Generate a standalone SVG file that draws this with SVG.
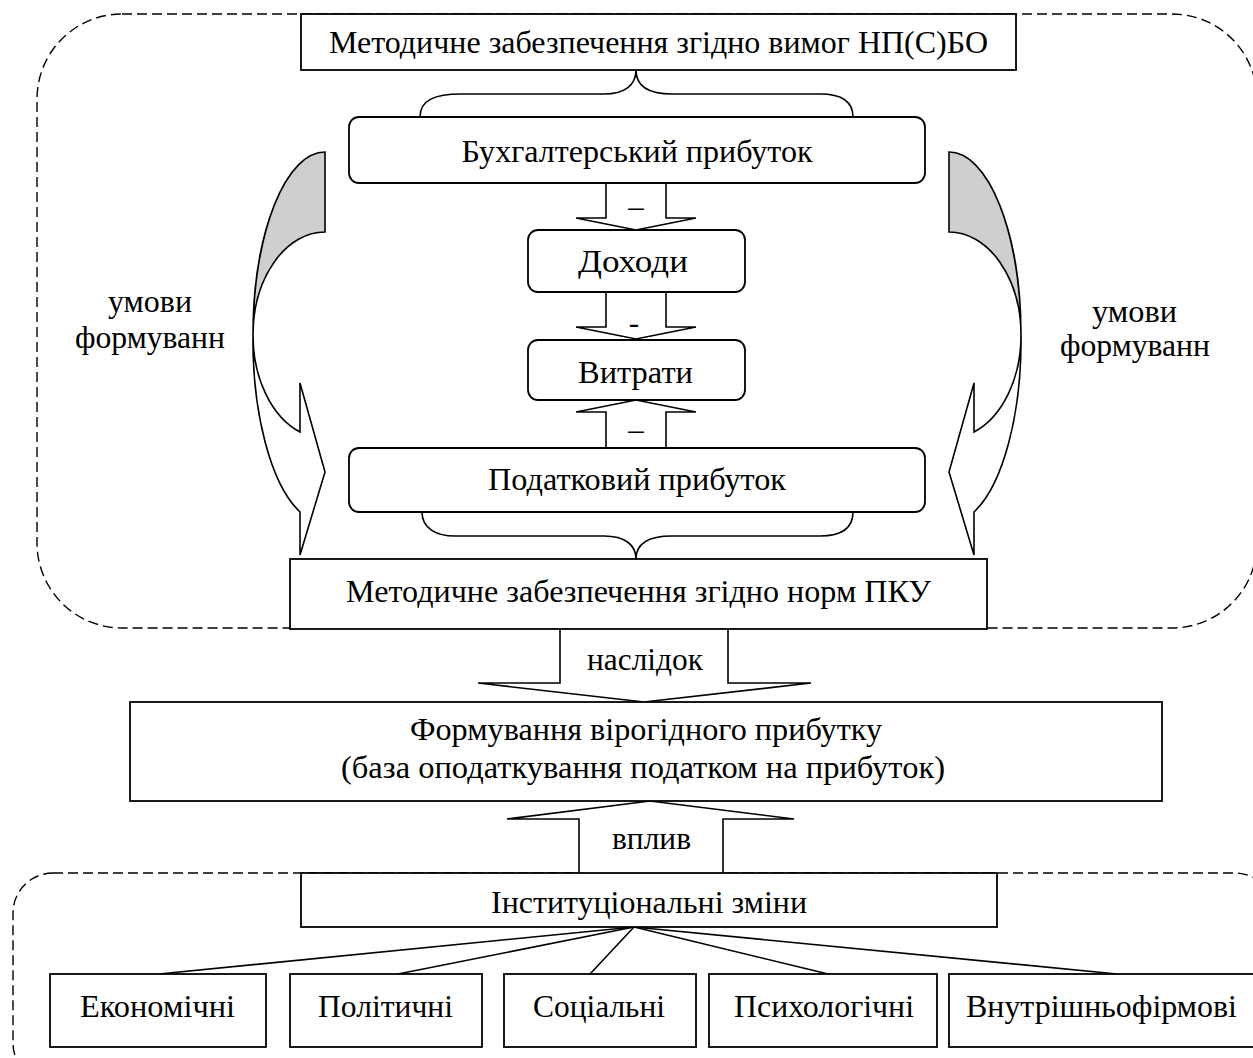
<svg xmlns="http://www.w3.org/2000/svg" xmlns:xlink="http://www.w3.org/1999/xlink" width="1253" height="1058" viewBox="0 0 1253 1058">
<style>
.box{fill:#fff;stroke:#000;stroke-width:1.8}
.cont{fill:none;stroke:#000;stroke-width:1.4;stroke-dasharray:10 5}
.ln{fill:none;stroke:#000;stroke-width:1.6}
.blk{fill:#fff;stroke:#000;stroke-width:1.6;stroke-linejoin:miter}
.gray{fill:#cfcfcf;stroke:#000;stroke-width:1.6}
text{font-family:"Liberation Serif","Times New Roman",serif;font-size:31px;fill:#000;text-anchor:middle}
</style>
<defs>
<g id="curvedArrow">
<path class="gray" d="M325,152 A72,183 0 0 0 253,335 A72,103 0 0 1 325,232 Z"/>
<path class="blk" d="M253,335 A72,103 0 0 0 300,432 L300,383 L325,472 L300,555 L300,512 A72,183 0 0 1 253,335 Z"/>
</g>
</defs>
<rect width="1253" height="1058" fill="#fff"/>
<g id="containers">
<rect class="cont" x="37" y="14" width="1220" height="614" rx="85" ry="85"/>
<rect class="cont" x="13" y="873" width="1262" height="210" rx="40" ry="40"/>
</g>
<g id="connectors">
<path class="ln" d="M420,117 C420,100 435,94 461,94 L604,94 C625,94 636,85 636,70 C636,85 647,94 672,94 L820,94 C840,94 853,100 853,117"/>
<path class="ln" d="M422,512 C422,529 437,536 455,536 L604,536 C625,536 636,545 636,559 C636,545 647,536 672,536 L820,536 C840,536 853,529 853,512"/>
<path class="blk" d="M606,183 L606,218 L576,218 L636,230 L696,218 L666,218 L666,183"/>
<path class="blk" d="M606,292 L606,327 L576,327 L636,339 L696,327 L666,327 L666,292"/>
<path class="blk" d="M606,448 L606,412 L576,412 L636,400 L696,412 L666,412 L666,448"/>
<text x="636" y="217">–</text>
<text x="634" y="333">-</text>
<text x="636" y="440">–</text>
<path class="blk" d="M560,629 L560,683 L478,683 L644,702 L811,683 L728,683 L728,629"/>
<text x="645" y="670" textLength="116" lengthAdjust="spacingAndGlyphs">наслідок</text>
<path class="blk" d="M579,873 L579,819 L507,819 L650,801 L794,819 L723,819 L723,873"/>
<text x="651.5" y="849" textLength="79" lengthAdjust="spacingAndGlyphs">вплив</text>
<use xlink:href="#curvedArrow" href="#curvedArrow"/>
<use xlink:href="#curvedArrow" href="#curvedArrow" transform="translate(1274,0) scale(-1,1)"/>
<text x="150" y="312" textLength="84" lengthAdjust="spacingAndGlyphs">умови</text>
<text x="150" y="348" textLength="150" lengthAdjust="spacingAndGlyphs">формуванн</text>
<text x="1134.5" y="322" textLength="85" lengthAdjust="spacingAndGlyphs">умови</text>
<text x="1135" y="356" textLength="150" lengthAdjust="spacingAndGlyphs">формуванн</text>
<line class="ln" x1="634" y1="927" x2="159" y2="974"/>
<line class="ln" x1="634" y1="927" x2="398" y2="974"/>
<line class="ln" x1="634" y1="927" x2="590" y2="974"/>
<line class="ln" x1="634" y1="927" x2="828" y2="974"/>
<line class="ln" x1="634" y1="927" x2="1117" y2="974"/>
</g>
<g id="n_top"><rect class="box" x="301" y="14" width="715" height="56"/><text x="658.5" y="53" textLength="659" lengthAdjust="spacingAndGlyphs">Методичне забезпечення згідно вимог НП(С)БО</text></g>
<g id="n_buh"><rect class="box" x="349" y="117" width="576" height="66" rx="10"/><text x="637" y="162" textLength="351" lengthAdjust="spacingAndGlyphs">Бухгалтерський прибуток</text></g>
<g id="n_dohody"><rect class="box" x="528" y="230" width="217" height="62" rx="10"/><text x="633" y="272" textLength="110" lengthAdjust="spacingAndGlyphs">Доходи</text></g>
<g id="n_vytraty"><rect class="box" x="528" y="340" width="217" height="60" rx="10"/><text x="635.5" y="383" textLength="115" lengthAdjust="spacingAndGlyphs">Витрати</text></g>
<g id="n_podat"><rect class="box" x="349" y="448" width="576" height="64" rx="10"/><text x="637" y="490" textLength="298" lengthAdjust="spacingAndGlyphs">Податковий прибуток</text></g>
<g id="n_pku"><rect class="box" x="290" y="559" width="697" height="70"/><text x="638.5" y="602" textLength="585" lengthAdjust="spacingAndGlyphs">Методичне забезпечення згідно норм ПКУ</text></g>
<g id="n_form"><rect class="box" x="130" y="702" width="1032" height="99"/><text x="646" y="740" textLength="472" lengthAdjust="spacingAndGlyphs">Формування вірогідного прибутку</text><text x="643" y="778" textLength="604" lengthAdjust="spacingAndGlyphs">(база оподаткування податком на прибуток)</text></g>
<g id="n_inst"><rect class="box" x="301" y="873" width="696" height="54"/><text x="649" y="913" textLength="316" lengthAdjust="spacingAndGlyphs">Інституціональні зміни</text></g>
<g id="n_econ"><rect class="box" x="50" y="974" width="216" height="73"/><text x="157.5" y="1017" textLength="155" lengthAdjust="spacingAndGlyphs">Економічні</text></g>
<g id="n_polit"><rect class="box" x="290" y="974" width="192" height="73"/><text x="385.5" y="1017" textLength="135" lengthAdjust="spacingAndGlyphs">Політичні</text></g>
<g id="n_soc"><rect class="box" x="504" y="974" width="192" height="73"/><text x="599" y="1017" textLength="132" lengthAdjust="spacingAndGlyphs">Соціальні</text></g>
<g id="n_psych"><rect class="box" x="709" y="974" width="228" height="73"/><text x="824" y="1017" textLength="180" lengthAdjust="spacingAndGlyphs">Психологічні</text></g>
<g id="n_intra"><rect class="box" x="949" y="974" width="307" height="73"/><text x="1101.5" y="1017" textLength="271" lengthAdjust="spacingAndGlyphs">Внутрішньофірмові</text></g>
</svg>
